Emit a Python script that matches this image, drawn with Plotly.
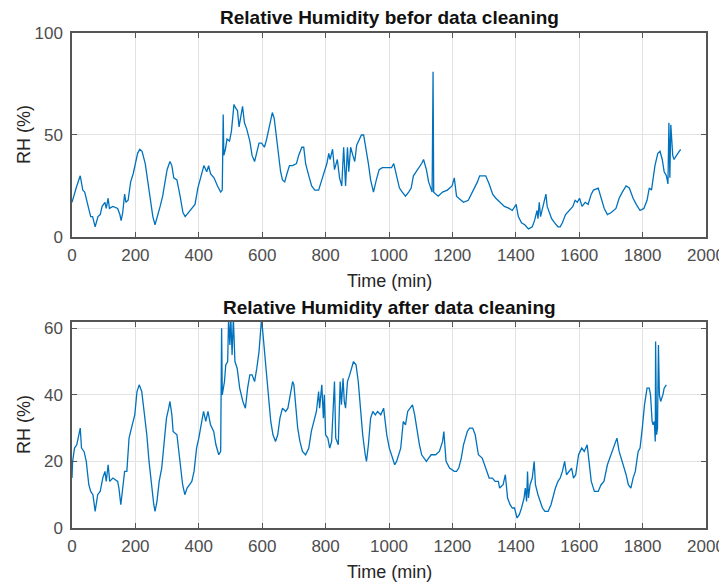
import plotly.graph_objects as go
from plotly.subplots import make_subplots

# ---- Raw data (before cleaning) ----
raw_time = [0, 5, 10, 15, 26, 34, 40, 50, 59, 65, 73, 82, 89, 95, 104, 108, 114, 118, 129, 144, 151, 155, 160, 166, 170, 177,
            185, 193, 199, 207, 214, 221, 231, 239, 246, 255, 262, 270, 278, 286, 294, 300, 309, 315, 321, 331, 341, 350,
            357, 368, 378, 388, 397, 407, 416, 425, 431, 437, 448, 459, 469, 474, 477, 479, 484, 489, 497, 503, 507, 511,
            517, 522, 527, 532, 538, 544, 551, 561, 568, 576, 583, 590, 598, 607, 614, 623, 632, 638, 645, 652, 658, 664,
            671, 678, 686, 696, 708, 715, 725, 731, 737, 747, 756, 766, 778, 788, 796, 804, 810, 814, 822, 828, 837, 844,
            851, 857, 863, 869, 873, 879, 886, 892, 898, 905, 913, 920, 927, 935, 942, 951, 960, 969, 979, 989, 1008,
            1015, 1023, 1033, 1042, 1052, 1062, 1070, 1077, 1086, 1096, 1103, 1109, 1118, 1125, 1136, 1139, 1141, 1155,
            1169, 1184, 1199, 1206, 1213, 1220, 1235, 1250, 1264, 1279, 1286, 1305, 1316, 1327, 1337, 1352, 1364, 1379,
            1389, 1401, 1408, 1418, 1428, 1440, 1452, 1459, 1467, 1470, 1474, 1478, 1484, 1492, 1495, 1499, 1506, 1513,
            1522, 1533, 1540, 1547, 1557, 1569, 1580, 1587, 1594, 1601, 1609, 1619, 1628, 1638, 1645, 1660, 1668, 1679,
            1689, 1701, 1716, 1726, 1736, 1748, 1758, 1770, 1780, 1792, 1804, 1814, 1821, 1828, 1839, 1848, 1855, 1862,
            1868, 1875, 1880, 1883, 1886, 1889, 1895, 1899, 1907, 1914, 1920]
raw_rh = [17, 20, 23, 25, 30, 23, 22, 15, 10, 10, 5, 10, 11, 15, 17, 14, 19, 14, 15, 14, 11, 8, 12, 21, 17, 18,
          27, 31, 35, 41, 43, 42, 36, 28, 20, 10, 6, 10, 15, 20, 28, 33, 37, 35, 29, 28, 20, 12,
          10, 12, 14, 16, 24, 30, 35, 32, 35, 31, 29, 25, 22, 23, 60, 40, 43, 48, 47, 52, 58, 65,
          63, 62, 54, 58, 64, 56, 53, 47, 40, 37, 42, 46, 46, 44, 48, 55, 61, 58, 48, 40, 32, 28,
          27, 31, 35, 35, 36, 40, 44, 44, 36, 30, 25, 23, 23, 28, 32, 36, 41, 38, 43, 33, 38, 29,
          25, 44, 25, 44, 32, 44, 40, 37, 45, 47, 50, 50, 44, 36, 28, 22, 28, 33, 34, 34, 34,
          36, 30, 24, 22, 20, 22, 24, 30, 32, 34, 36, 38, 33, 27, 22, 81, 22, 20,
          22, 23, 25, 29, 20, 19, 17, 18, 22, 27, 30, 30, 26, 21, 19, 17, 15, 14,
          13, 16, 10, 7, 6, 4, 5, 8, 13, 9, 17, 10, 14, 19, 21, 15, 12, 9,
          7, 5, 5, 7, 11, 13, 15, 18, 17, 19, 15, 17, 16, 21, 23, 24, 20, 14,
          11, 12, 14, 19, 22, 25, 24, 19, 16, 13, 14, 18, 24, 23, 35, 41, 42, 38,
          32, 30, 26, 56, 29, 55, 40, 38, 40, 42, 43]

# ---- Cleaned data ----
clean_time = [0, 2, 8, 15, 26, 30, 38, 45, 53, 59, 66, 73, 81, 89, 97, 104, 108, 114, 119, 129, 144, 148, 154, 161, 166, 173,
              180, 190, 198, 205, 212, 220, 228, 236, 243, 251, 258, 262, 268, 275, 283, 290, 298, 305, 309, 315, 319, 331,
              341, 349, 356, 363, 371, 378, 385, 393, 400, 407, 415, 422, 429, 437, 447, 454, 463, 469, 472, 474, 481, 485,
              491, 494, 498, 501, 505, 509, 514, 521, 529, 539, 547, 554, 561, 568, 576, 583, 590, 598, 605, 612, 620, 627,
              634, 642, 649, 656, 664, 674, 681, 689, 696, 700, 705, 712, 719, 727, 737, 747, 755, 764, 771, 778, 781, 788,
              793, 796, 800, 807, 813, 819, 828, 832, 840, 846, 850, 855, 859, 863, 869, 876, 884, 888, 896, 903, 910, 917,
              925, 929, 935, 942, 949, 957, 964, 974, 983, 986, 993, 1001, 1012, 1018, 1024, 1030, 1037, 1045, 1052, 1059,
              1067, 1074, 1081, 1089, 1096, 1103, 1111, 1118, 1125, 1133, 1147, 1159, 1169, 1173, 1180, 1185, 1191, 1206,
              1213, 1220, 1228, 1235, 1247, 1254, 1264, 1272, 1282, 1294, 1301, 1308, 1316, 1326, 1335, 1345, 1349, 1360,
              1367, 1374, 1382, 1389, 1396, 1404, 1411, 1418, 1426, 1430, 1434, 1437, 1440, 1445, 1452, 1458, 1462, 1470,
              1477, 1484, 1492, 1502, 1511, 1518, 1525, 1533, 1540, 1547, 1554, 1560, 1567, 1576, 1582, 1589, 1598, 1608,
              1616, 1625, 1631, 1638, 1648, 1660, 1669, 1678, 1689, 1701, 1711, 1719, 1726, 1733, 1740, 1748, 1755, 1763,
              1770, 1777, 1786, 1792, 1799, 1806, 1814, 1821, 1825, 1830, 1833, 1837, 1840, 1841, 1844, 1847, 1850, 1853,
              1857, 1864, 1868, 1875]
clean_rh = [15, 20, 24, 25, 30, 24, 23, 20, 13, 11, 10, 5, 10, 11, 15, 17, 14, 19, 14, 15, 14, 12, 7, 12, 17, 17,
            27, 31, 34, 41, 43, 41, 35, 28, 20, 12, 7, 5, 8, 14, 18, 25, 33, 36, 38, 34, 29, 28,
            20, 13, 10, 12, 13, 14, 17, 24, 27, 31, 35, 32, 35, 31, 29, 25, 22, 23, 60, 40, 44, 49,
            50, 63, 55, 63, 52, 63, 50, 48, 42, 38, 36, 42, 46, 46, 44, 48, 53, 63, 55, 48, 38, 32,
            28, 26, 28, 33, 36, 35, 36, 40, 44, 43, 38, 30, 26, 23, 22, 24, 29, 32, 35, 41, 36, 43,
            33, 40, 28, 27, 24, 26, 44, 27, 25, 44, 37, 45, 38, 36, 44, 46, 49, 50, 49, 44, 36, 28,
            22, 20, 25, 33, 35, 34, 35, 34, 36, 33, 28, 24, 21, 19, 20, 22, 24, 32, 31, 35,
            36, 37, 34, 29, 25, 22, 21, 20, 21, 22, 22, 23, 26, 29, 20, 19, 18, 17,
            17, 18, 21, 25, 29, 30, 30, 28, 22, 21, 19, 17, 15, 15, 14, 14, 12, 13,
            16, 9, 7, 6, 6, 3, 4, 6, 9, 12, 8, 17, 9, 13, 15, 20, 13, 10,
            8, 6, 5, 5, 7, 10, 12, 14, 15, 17, 20, 16, 17, 18, 15, 16, 22, 24,
            23, 25, 20, 14, 11, 11, 13, 14, 19, 22, 25, 27, 23, 21, 19, 16, 13, 12,
            15, 17, 23, 24, 30, 37, 42, 42, 40, 32, 31, 32, 26, 56, 28, 30, 55, 40,
            38, 40, 42, 43]

x_ticks = [0, 200, 400, 600, 800, 1000, 1200, 1400, 1600, 1800, 2000]
top_y_ticks = [0, 50, 100]
bottom_y_ticks = [0, 20, 40, 60]

LINE = "#0072BD"
AXC = "#262626"
FRAME = "#555555"
TICKC = "#4D4D4D"
GRID = "#E2E2E2"
FONT = "Liberation Sans, Arial, sans-serif"

fig = make_subplots(rows=2, cols=1, vertical_spacing=0.0)
fig.add_trace(go.Scatter(x=raw_time, y=raw_rh, mode="lines",
                         line=dict(color=LINE, width=1.3), showlegend=False), row=1, col=1)
fig.add_trace(go.Scatter(x=clean_time, y=clean_rh, mode="lines",
                         line=dict(color=LINE, width=1.3), showlegend=False), row=2, col=1)

axis_common = dict(showline=True, linecolor=FRAME, linewidth=1.5, mirror="ticks",
                   ticks="inside", ticklen=5, tickcolor=FRAME, tickwidth=1,
                   showgrid=True, gridcolor=GRID, gridwidth=1, zeroline=False,
                   automargin=False,
                   tickfont=dict(family=FONT, size=17, color=TICKC))

fig.update_xaxes(**axis_common, range=[0, 2000], tickvals=x_ticks, ticklabelstandoff=2)
fig.update_yaxes(**axis_common, ticklabelstandoff=4)
fig.update_yaxes(range=[0, 100], tickvals=top_y_ticks, row=1, col=1)
fig.update_yaxes(range=[0, 61.9], tickvals=bottom_y_ticks, row=2, col=1)

top_dom = [0.5879, 1.0]
bot_dom = [0.0, 0.4163]
fig.update_layout(yaxis=dict(domain=top_dom), yaxis2=dict(domain=bot_dom))

title_font = dict(family=FONT, size=19, color="#111111")
axt_font = dict(family=FONT, size=18, color=AXC)

annotations = [
    dict(text="<b>Relative Humidity befor data cleaning</b>", x=0.5, y=top_dom[1], yshift=3,
         xanchor="center", yanchor="bottom", font=title_font),
    dict(text="<b>Relative Humidity after data cleaning</b>", x=0.5, y=bot_dom[1], yshift=1.5,
         xanchor="center", yanchor="bottom", font=title_font),
    dict(text="Time (min)", x=0.5, y=top_dom[0], yshift=-44, xanchor="center", yanchor="middle", font=axt_font),
    dict(text="Time (min)", x=0.5, y=bot_dom[0], yshift=-44, xanchor="center", yanchor="middle", font=axt_font),
    dict(text="RH (%)", x=0, xshift=-48, y=(top_dom[0] + top_dom[1]) / 2, textangle=-90,
         xanchor="center", yanchor="middle", font=axt_font),
    dict(text="RH (%)", x=0, xshift=-48, y=(bot_dom[0] + bot_dom[1]) / 2, textangle=-90,
         xanchor="center", yanchor="middle", font=axt_font),
]
for a in annotations:
    a.update(xref="paper", yref="paper", showarrow=False)

# page body has an 8px margin, so the figure is 8px smaller than the window
fig.update_layout(
    width=719, height=579,
    margin=dict(l=64, r=21, t=24.5, b=59),
    paper_bgcolor="white", plot_bgcolor="white",
    font=dict(family=FONT, color=AXC),
    annotations=annotations,
)

fig.write_html("out.html")
